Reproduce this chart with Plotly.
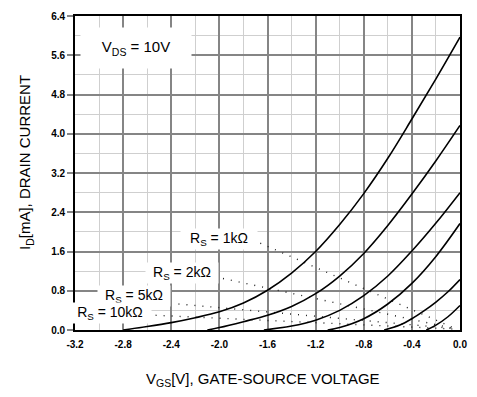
import plotly.graph_objects as go

# ---- data ----
c1_v = [-2.8, -2.6, -2.4, -2.2, -2.0, -1.8, -1.6, -1.4, -1.2, -1.0, -0.8, -0.6, -0.4, -0.2, 0.0]
c1_i = [0.0, 0.07, 0.15, 0.25, 0.37, 0.55, 0.81, 1.16, 1.6, 2.15, 2.78, 3.5, 4.3, 5.12, 5.97]

c2_v = [-2.1, -2.0, -1.8, -1.6, -1.4, -1.2, -1.0, -0.8, -0.6, -0.4, -0.2, 0.0]
c2_i = [0.0, 0.05, 0.17, 0.3, 0.48, 0.74, 1.1, 1.56, 2.13, 2.77, 3.45, 4.17]

c3_v = [-1.63, -1.4, -1.2, -1.0, -0.8, -0.6, -0.4, -0.2, 0.0]
c3_i = [0.0, 0.08, 0.2, 0.4, 0.7, 1.1, 1.61, 2.18, 2.8]

c4_v = [-1.1, -1.0, -0.8, -0.6, -0.4, -0.2, 0.0]
c4_i = [0.0, 0.05, 0.23, 0.53, 0.95, 1.5, 2.17]

c5_v = [-0.63, -0.5, -0.4, -0.3, -0.2, -0.1, 0.0]
c5_i = [0.0, 0.1, 0.23, 0.39, 0.57, 0.78, 1.03]

c6_v = [-0.28, -0.2, -0.1, 0.0]
c6_i = [0.0, 0.1, 0.27, 0.5]

curves = [(c1_v, c1_i), (c2_v, c2_i), (c3_v, c3_i), (c4_v, c4_i), (c5_v, c5_i), (c6_v, c6_i)]

# self-bias load lines (dotted)
rs_names = ["R<sub>S</sub> = 1kΩ", "R<sub>S</sub> = 2kΩ", "R<sub>S</sub> = 5kΩ", "R<sub>S</sub> = 10kΩ"]
rs_v = [[-1.66, -0.05], [-1.97, -0.05], [-2.34, -0.05], [-2.53, -0.05]]
rs_i = [[1.77, 0.04], [1.05, 0.03], [0.53, 0.03], [0.30, 0.02]]
rs_label_v = [-2.005, -2.314, -2.709, -2.91]
rs_label_i = [1.86, 1.166, 0.70, 0.346]
rs_box_w = [74, 70, 70, 80]

x_tickvals = [-3.2, -2.8, -2.4, -2.0, -1.6, -1.2, -0.8, -0.4, 0.0]
x_ticktext = ["-3.2", "-2.8", "-2.4", "-2.0", "-1.6", "-1.2", "-0.8", "-0.4", "0.0"]
y_tickvals = [0.0, 0.8, 1.6, 2.4, 3.2, 4.0, 4.8, 5.6, 6.4]
y_ticktext = ["0.0", "0.8", "1.6", "2.4", "3.2", "4.0", "4.8", "5.6", "6.4"]

FONT = "Liberation Sans, Arial, Helvetica, sans-serif"

fig = go.Figure()

for v, i in zip(rs_v, rs_i):
    fig.add_trace(go.Scatter(x=v, y=i, mode="lines",
                             line=dict(color="#222222", width=1.4, dash="1px,7px"),
                             hoverinfo="skip", showlegend=False))

for v, i in curves:
    fig.add_trace(go.Scatter(x=v, y=i, mode="lines", line_shape="spline",
                             line=dict(color="black", width=1.6, smoothing=1.0),
                             hoverinfo="skip", showlegend=False))

annotations = []
annotations.append(dict(x=-2.69, y=5.74, xref="x", yref="y", text="V<sub>DS</sub> = 10V",
                        showarrow=False, font=dict(family=FONT, size=15, color="black"),
                        bgcolor="white", width=108, height=38, align="center"))
for name, lv, li, w in zip(rs_names, rs_label_v, rs_label_i, rs_box_w):
    annotations.append(dict(x=lv, y=li, xref="x", yref="y", text=name, showarrow=False,
                            font=dict(family=FONT, size=14, color="black"),
                            bgcolor="white", width=w, height=18, align="center"))

annotations.append(dict(x=0.488, y=-0.159, xref="paper", yref="paper",
                        text="V<sub>GS</sub>[V], GATE-SOURCE VOLTAGE", showarrow=False,
                        font=dict(family=FONT, size=15, color="black"),
                        xanchor="center", yanchor="middle"))
annotations.append(dict(x=-0.128, y=0.534, xref="paper", yref="paper",
                        text="I<sub>D</sub>[mA], DRAIN CURRENT", showarrow=False, textangle=-90,
                        font=dict(family=FONT, size=15, color="black"),
                        xanchor="center", yanchor="middle"))

fig.update_layout(
    width=477, height=397,
    margin=dict(l=75, r=11, t=10, b=67),
    paper_bgcolor="white", plot_bgcolor="white",
    showlegend=False,
    annotations=annotations,
    xaxis=dict(range=[-3.2, 0.0], tickvals=x_tickvals, ticktext=x_ticktext,
               showgrid=True, gridcolor="#858585", gridwidth=1.5,
               minor=dict(dtick=0.2, tick0=0, showgrid=True, gridcolor="#cfcfcf", gridwidth=1),
               showline=True, linecolor="black", linewidth=1.6, mirror=True,
               ticks="", ticklabelstandoff=4, zeroline=False,
               tickfont=dict(family=FONT, size=10, color="black", weight="bold")),
    yaxis=dict(range=[0.0, 6.4], tickvals=y_tickvals, ticktext=y_ticktext,
               showgrid=True, gridcolor="#858585", gridwidth=1.5,
               minor=dict(dtick=0.4, tick0=0, showgrid=True, gridcolor="#cfcfcf", gridwidth=1),
               showline=True, linecolor="black", linewidth=1.6, mirror=True,
               ticks="outside", ticklen=6, tickcolor="#858585", tickwidth=1.5, zeroline=False,
               tickfont=dict(family=FONT, size=10, color="black", weight="bold")),
)

fig.write_html("out.html")
